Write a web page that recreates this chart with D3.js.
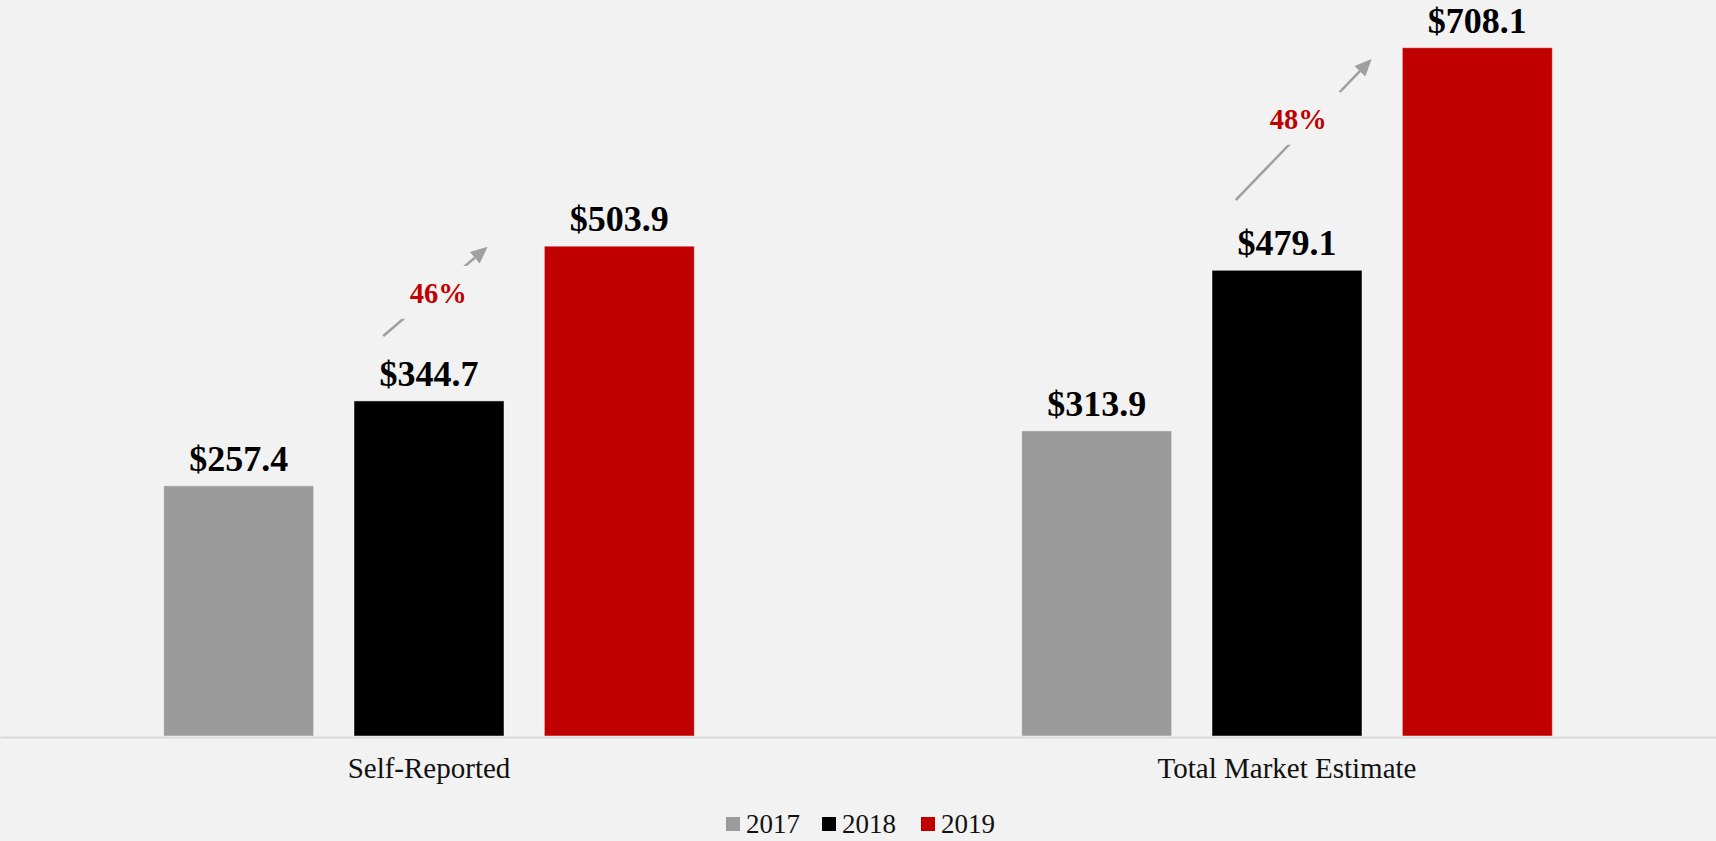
<!DOCTYPE html>
<html>
<head>
<meta charset="utf-8">
<script src="https://cdn.jsdelivr.net/npm/d3@7/dist/d3.min.js"></script>
<style>
  html, body { margin: 0; padding: 0; background: #f2f2f2; }
  svg { display: block; }
</style>
</head>
<body>
<svg id="chart" width="1716" height="841"></svg>
<script>
// ---- data ----
const categories = ["Self-Reported", "Total Market Estimate"];
const years = ["2017", "2018", "2019"];
const values2017 = [257.4, 313.9];
const values2018 = [344.7, 479.1];
const values2019 = [503.9, 708.1];
const growthLabels = ["46%", "48%"];

// ---- layout / styling ----
const W = 1716, H = 841;
const baseY = 736;
const colors = { "2017": "#9b9b9b", "2018": "#000000", "2019": "#c00000" };
const bg = "#f2f2f2";
const serif = "'Liberation Serif', 'Times New Roman', serif";

const seriesByYear = { "2017": values2017, "2018": values2018, "2019": values2019 };
const rows = categories.map((c, i) => ({
  cat: c,
  bars: years.map(y => ({ year: y, value: seriesByYear[y][i] }))
}));

const svg = d3.select("#chart");
svg.append("rect").attr("width", W).attr("height", H).attr("fill", bg);

const x0 = d3.scaleBand().domain(categories).range([0, W]);
const x1 = d3.scaleBand().domain(years).range([0, x0.bandwidth()])
  .paddingInner(0.212).paddingOuter(0.86);
const y = d3.scaleLinear().domain([0, 800]).range([baseY, baseY - 800 * 0.97204]);

// axis line (category axis)
const xAxis = d3.axisBottom(x0).tickSize(0).tickPadding(0).tickFormat("");
const axisG = svg.append("g").attr("transform", `translate(0,${baseY + 1})`).call(xAxis);
axisG.select(".domain").attr("stroke", "#dadada").attr("stroke-width", 2);

// category labels
svg.append("g").selectAll("text").data(categories).join("text")
  .attr("x", d => x0(d) + x0.bandwidth() / 2)
  .attr("y", baseY + 42)
  .attr("text-anchor", "middle")
  .attr("font-family", serif)
  .attr("font-size", 29)
  .attr("fill", "#111")
  .text(d => d);

// bars
const groups = svg.append("g").selectAll("g").data(rows).join("g")
  .attr("transform", d => `translate(${x0(d.cat)},0)`);

groups.selectAll("rect").data(d => d.bars).join("rect")
  .attr("x", d => x1(d.year))
  .attr("y", d => y(d.value))
  .attr("width", x1.bandwidth())
  .attr("height", d => baseY - y(d.value))
  .attr("fill", d => colors[d.year])
  .attr("stroke", "rgba(255,255,255,0.45)")
  .attr("stroke-width", 1);

// value labels
groups.selectAll("text.val").data(d => d.bars).join("text")
  .attr("class", "val")
  .attr("x", d => x1(d.year) + x1.bandwidth() / 2)
  .attr("y", d => y(d.value) - 15)
  .attr("text-anchor", "middle")
  .attr("font-family", serif)
  .attr("font-weight", "bold")
  .attr("font-size", 36)
  .attr("fill", "#000")
  .text(d => "$" + d3.format(".1f")(d.value));

// growth arrows (geometry in band fractions and value units)
const arrowGeom = [
  { fx0: 0.4467, v0: 411.5, fx1: 0.5684, v1: 503.4, fl: 0.5108, vl: 445.1 },
  { fx0: 0.4402, v0: 551.4, fx1: 0.5987, v1: 696.5, fl: 0.5132, vl: 624.2 }
];
const arrowColor = "#a0a0a0";
arrowGeom.forEach((g, i) => {
  const bx = x0(categories[i]);
  const bw = x0.bandwidth();
  const xs = bx + g.fx0 * bw, ys = y(g.v0);
  const xe = bx + g.fx1 * bw, ye = y(g.v1);
  const ang = Math.atan2(ye - ys, xe - xs);
  const headLen = 17, headHalf = 7.5;
  const bxh = xe - headLen * Math.cos(ang), byh = ye - headLen * Math.sin(ang);
  const ag = svg.append("g");
  ag.append("line")
    .attr("x1", xs).attr("y1", ys).attr("x2", bxh).attr("y2", byh)
    .attr("stroke", arrowColor).attr("stroke-width", 2.5);
  ag.append("path")
    .attr("d", d3.line()([
      [xe, ye],
      [bxh + headHalf * Math.sin(ang), byh - headHalf * Math.cos(ang)],
      [bxh - headHalf * Math.sin(ang), byh + headHalf * Math.cos(ang)]
    ]) + "Z")
    .attr("fill", arrowColor);
  const lx = bx + g.fl * bw, ly = y(g.vl);
  ag.append("rect")
    .attr("x", lx - 42).attr("y", ly - 37.5)
    .attr("width", 84).attr("height", 53)
    .attr("fill", bg);
  ag.append("text")
    .attr("x", lx).attr("y", ly)
    .attr("text-anchor", "middle")
    .attr("font-family", serif)
    .attr("font-weight", "bold")
    .attr("font-size", 28.5)
    .attr("fill", "#c00000")
    .text(growthLabels[i]);
});

// legend
const legendX = [726, 822, 921];
const legend = svg.append("g").selectAll("g").data(years).join("g")
  .attr("transform", (d, i) => `translate(${legendX[i]},817)`);
legend.append("rect").attr("width", 14).attr("height", 14).attr("fill", d => colors[d]);
legend.append("text")
  .attr("x", 20).attr("y", 15.7)
  .attr("font-family", serif)
  .attr("font-size", 27)
  .attr("fill", "#111")
  .text(d => d);
</script>
</body>
</html>
